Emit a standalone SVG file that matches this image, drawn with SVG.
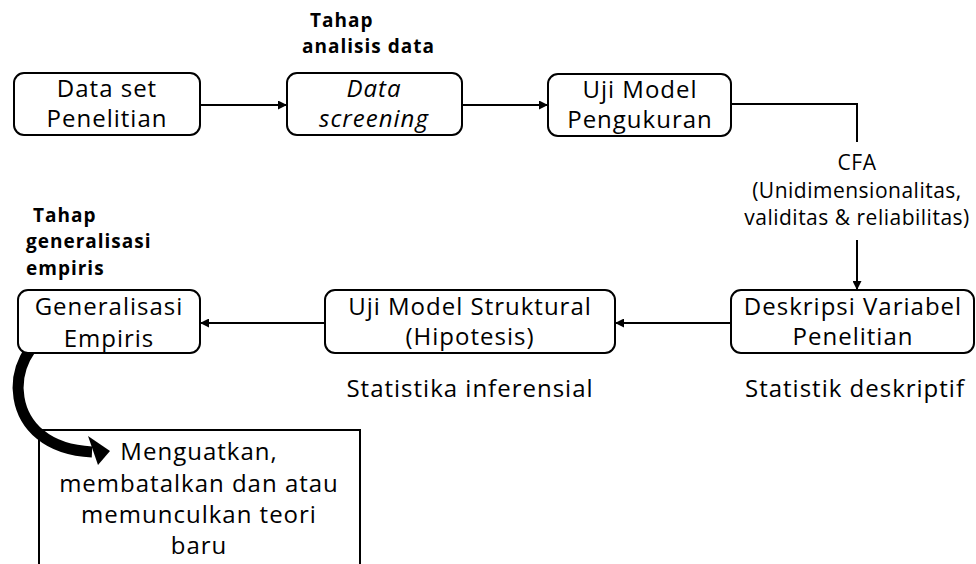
<svg xmlns="http://www.w3.org/2000/svg" width="976" height="564" viewBox="0 0 976 564">
<style>
.box{fill:#fff;stroke:#000;stroke-width:2}
.t{font-family:"Open Sans","Liberation Sans",sans-serif;font-size:24px;letter-spacing:1px;fill:#000;text-anchor:middle}
.cfa{font-size:21px;letter-spacing:0.5px}
.b{font-family:"Open Sans","Liberation Sans",sans-serif;font-size:19px;letter-spacing:1px;font-weight:bold;fill:#000}
.c{fill:none;stroke:#000;stroke-width:2}
</style>
<defs>
<marker id="ah" viewBox="0 0 10 10" refX="10" refY="5" markerWidth="10" markerHeight="9" markerUnits="userSpaceOnUse" orient="auto">
<path d="M0,0 L10,5 L0,10 Z" fill="#000"/>
</marker>
</defs>
<rect width="976" height="564" fill="#fff"/>
<g id="label-analisis">
<text class="b" x="310" y="27">Tahap</text>
<text class="b" x="302" y="53">analisis data</text>
</g>
<g id="label-generalisasi">
<text class="b" x="33" y="222">Tahap</text>
<text class="b" x="26" y="248">generalisasi</text>
<text class="b" x="26" y="275">empiris</text>
</g>
<g id="connectors">
<line class="c" x1="200" y1="105" x2="287" y2="105" marker-end="url(#ah)"/>
<line class="c" x1="462" y1="105" x2="548" y2="105" marker-end="url(#ah)"/>
<polyline class="c" points="731,104 857,104 857,142"/>
<line class="c" x1="857" y1="240" x2="857" y2="290" marker-end="url(#ah)"/>
<line class="c" x1="731" y1="323" x2="615" y2="323" marker-end="url(#ah)"/>
<line class="c" x1="325" y1="323" x2="200" y2="323" marker-end="url(#ah)"/>
<path d="M54,331 C2,352 0,448 92,452" fill="none" stroke="#000" stroke-width="11"/>
<path d="M88,436 L110,451 L98,465 Z" fill="#000"/>
</g>
<g id="cfa-label">
<text class="t cfa" x="857" y="170">CFA</text>
<text class="t cfa" x="857" y="198">(Unidimensionalitas,</text>
<text class="t cfa" x="857" y="225">validitas &amp; reliabilitas)</text>
</g>
<g id="node-dataset">
<rect class="box" x="14" y="73" width="186" height="62" rx="10"/>
<text class="t" x="107" y="97">Data set</text>
<text class="t" x="107" y="127">Penelitian</text>
</g>
<g id="node-screening">
<rect class="box" x="287" y="73" width="175" height="62" rx="10"/>
<text class="t" x="374" y="97" font-style="italic">Data</text>
<text class="t" x="374" y="127" font-style="italic">screening</text>
</g>
<g id="node-pengukuran">
<rect class="box" x="548" y="74" width="183" height="62" rx="10"/>
<text class="t" x="640" y="98">Uji Model</text>
<text class="t" x="640" y="128">Pengukuran</text>
</g>
<g id="node-deskripsi">
<rect class="box" x="731" y="290" width="243" height="63" rx="10"/>
<text class="t" x="853" y="315">Deskripsi Variabel</text>
<text class="t" x="853" y="345">Penelitian</text>
<text class="t" x="855" y="397">Statistik deskriptif</text>
</g>
<g id="node-struktural">
<rect class="box" x="325" y="290" width="290" height="63" rx="10"/>
<text class="t" x="470" y="315">Uji Model Struktural</text>
<text class="t" x="470" y="345">(Hipotesis)</text>
<text class="t" x="470" y="397">Statistika inferensial</text>
</g>
<g id="node-generalisasi">
<rect class="box" x="18" y="290" width="182" height="63" rx="10"/>
<text class="t" x="109" y="315">Generalisasi</text>
<text class="t" x="109" y="347">Empiris</text>
</g>
<g id="node-teori">
<path class="c" d="M39,566 L39,430 L360,430 L360,566"/>
<text class="t" x="199" y="460">Menguatkan,</text>
<text class="t" x="199" y="492">membatalkan dan atau</text>
<text class="t" x="199" y="523">memunculkan teori</text>
<text class="t" x="199" y="554">baru</text>
</g>
</svg>
